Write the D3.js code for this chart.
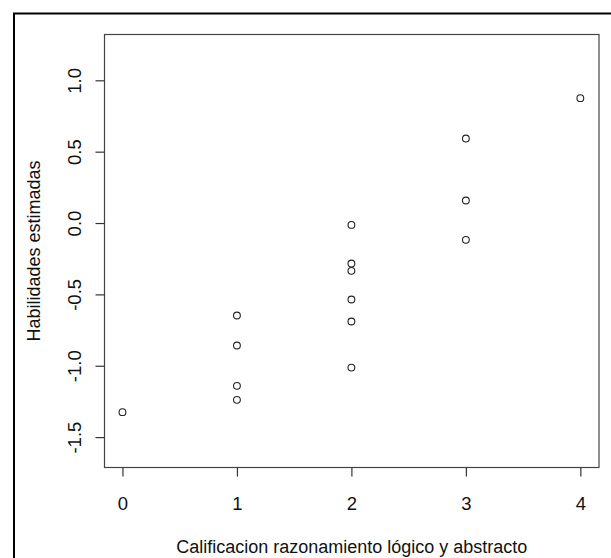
<!DOCTYPE html>
<html>
<head>
<meta charset="utf-8">
<script src="https://cdn.jsdelivr.net/npm/d3@7"></script>
<style>
  html, body { margin: 0; padding: 0; background: #fff; }
  svg { display: block; }
  text { font-family: "Liberation Sans", Arial, sans-serif; fill: #111; }
</style>
</head>
<body>
<div id="chart"></div>
<script>
// Data
const xValues = [0, 1, 1, 1, 1, 2, 2, 2, 2, 2, 2, 3, 3, 3, 4];
const yValues = [-1.325, -0.648, -0.858, -1.141, -1.239, -0.013, -0.284, -0.335, -0.536, -0.690, -1.013, 0.592, 0.158, -0.118, 0.875];
const xTicks = [0, 1, 2, 3, 4];
const yTicks = [-1.5, -1.0, -0.5, 0.0, 0.5, 1.0];
const xLabel = "Calificacion razonamiento lógico y abstracto";
const yLabel = "Habilidades estimadas";

const W = 611, H = 558;
const box = { left: 104.5, right: 599, top: 34.5, bottom: 467.5 };
const FONT = '"Liberation Sans", Arial, sans-serif';
const FS = 18;
const TFS = 18.5;

const svg = d3.select("#chart").append("svg").attr("width", W).attr("height", H);

// outer frame
svg.append("path")
  .attr("d", `M14,${H + 5} L14,13.5 L${W + 5},13.5`)
  .attr("fill", "none").attr("stroke", "#000").attr("stroke-width", 2);

const x = d3.scaleLinear().domain([-0.157, 4.163]).range([box.left, box.right]);
const y = d3.scaleLinear().domain([-1.713, 1.321]).range([box.bottom, box.top]);

// plot box
svg.append("rect")
  .attr("x", box.left).attr("y", box.top)
  .attr("width", box.right - box.left).attr("height", box.bottom - box.top)
  .attr("fill", "none").attr("stroke", "#444").attr("stroke-width", 1.2);

const hyphen = f => d => f(d).replace("\u2212", "-");

// x axis
const xAxis = d3.axisBottom(x).tickValues(xTicks).tickSize(9).tickPadding(20).tickFormat(d3.format("d"));
const gx = svg.append("g").attr("transform", `translate(0,${box.bottom})`).call(xAxis);
gx.select(".domain").remove();
gx.selectAll(".tick line").attr("stroke", "#333").attr("stroke-width", 1.2);
gx.selectAll(".tick text").attr("font-size", TFS).attr("fill", "#111").style("font-family", FONT);

// y axis
const yAxis = d3.axisLeft(y).tickValues(yTicks).tickSize(9).tickFormat(hyphen(d3.format(".1f")));
const gy = svg.append("g").attr("transform", `translate(${box.left},0)`).call(yAxis);
gy.select(".domain").remove();
gy.selectAll(".tick line").attr("stroke", "#333").attr("stroke-width", 1.2);
gy.selectAll(".tick text")
  .attr("font-size", TFS).attr("fill", "#111")
  .style("font-family", FONT)
  .attr("x", null)
  .attr("text-anchor", "middle")
  .attr("transform", "translate(-30,0) rotate(-90)")
  .attr("y", 0).attr("dy", "0.35em");

// points
svg.append("g").selectAll("circle")
  .data(xValues.map((d, i) => [d, yValues[i]]))
  .join("circle")
  .attr("cx", d => x(d[0])).attr("cy", d => y(d[1]))
  .attr("r", 3.4)
  .attr("fill", "none").attr("stroke", "#222").attr("stroke-width", 1.1);

// axis titles
svg.append("text")
  .attr("x", (box.left + box.right) / 2).attr("y", 553)
  .attr("text-anchor", "middle").attr("font-size", FS)
  .text(xLabel);

svg.append("text")
  .attr("transform", `translate(40,${(box.top + box.bottom) / 2}) rotate(-90)`)
  .attr("text-anchor", "middle").attr("font-size", FS)
  .text(yLabel);
</script>
</body>
</html>
